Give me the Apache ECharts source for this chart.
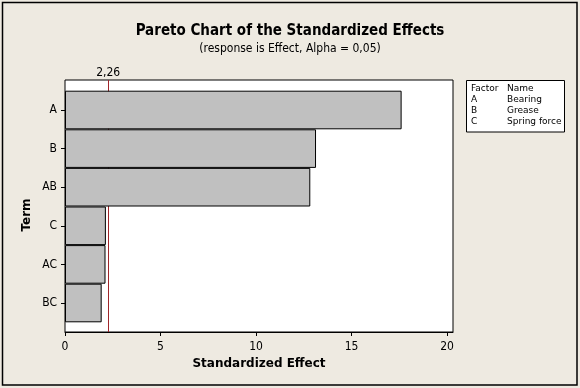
<!DOCTYPE html>
<html>
<head>
<meta charset="utf-8">
<script src="https://cdn.jsdelivr.net/npm/echarts@6/dist/echarts.min.js"></script>
<style>
html,body{margin:0;padding:0;background:#EEEAE1;}
#c{width:580px;height:388px;}
</style>
</head>
<body>
<div id="c"></div>
<script>
// ---- data ----
const terms = ['A', 'B', 'AB', 'C', 'AC', 'BC'];
const effects = [17.62, 13.14, 12.84, 2.14, 2.12, 1.92];
const criticalValue = 2.26;
const xTicks = [0, 5, 10, 15, 20];
const factorLetters = ['A', 'B', 'C'];
const factorNames = ['Bearing', 'Grease', 'Spring force'];
const titleText = 'Pareto Chart of the Standardized Effects';
const subtitleText = '(response is Effect, Alpha = 0,05)';

const FONT = '"DejaVu Sans Condensed", "DejaVu Sans"';
const FONT2 = 'DejaVu Sans';
const xMax = 20.31;
const fmt = v => String(v).replace('.', ',');

const chart = echarts.init(document.getElementById('c'), null, {renderer: 'canvas'});

const legendGraphics = [];
legendGraphics.push({type: 'rect', shape: {x: 466.5, y: 80.5, width: 98, height: 51.5},
  style: {fill: '#fff', stroke: '#000', lineWidth: 1}, z: 10});
legendGraphics.push({type: 'text', x: 471, y: 88.5, z: 11,
  style: {text: 'Factor', font: '9px ' + FONT2, fill: '#000', verticalAlign: 'middle'}});
legendGraphics.push({type: 'text', x: 507, y: 88.5, z: 11,
  style: {text: 'Name', font: '9px ' + FONT2, fill: '#000', verticalAlign: 'middle'}});
factorLetters.forEach((f, i) => {
  legendGraphics.push({type: 'text', x: 471, y: 99.5 + i * 11, z: 11,
    style: {text: f, font: '9px ' + FONT2, fill: '#000', verticalAlign: 'middle'}});
  legendGraphics.push({type: 'text', x: 507, y: 99.5 + i * 11, z: 11,
    style: {text: factorNames[i], font: '9px ' + FONT2, fill: '#000', verticalAlign: 'middle'}});
});

const option = {
  backgroundColor: '#EEEAE1',
  animation: false,
  title: {
    text: titleText,
    subtext: subtitleText,
    left: 'center',
    top: 19,
    itemGap: 4,
    textStyle: {fontFamily: FONT, fontSize: 15, fontWeight: 'bold', color: '#000'},
    subtextStyle: {fontFamily: FONT, fontSize: 12, color: '#000'}
  },
  graphic: [
    {type: 'rect', shape: {x: 2.5, y: 2.5, width: 574.5, height: 382.5},
     style: {fill: null, stroke: '#000', lineWidth: 1.5}, z: 20, silent: true},
    {type: 'text', x: 27, y: 215, rotation: Math.PI / 2,
     style: {text: 'Term', font: 'bold 12px ' + FONT2, fill: '#000', align: 'center', verticalAlign: 'middle'}},
    ...legendGraphics
  ],
  grid: [
    {left: 65, right: 127, top: 80, bottom: 56, show: true, backgroundColor: '#fff',
     borderColor: '#000', borderWidth: 1, containLabel: false},
    {left: 65, right: 127, top: 90.7, bottom: 65.7, containLabel: false}
  ],
  xAxis: [
    {type: 'value', gridIndex: 0, min: 0, max: xMax, interval: 5,
     name: 'Standardized Effect', nameLocation: 'middle', nameGap: 24,
     nameTextStyle: {fontFamily: FONT2, fontSize: 12, fontWeight: 'bold', color: '#000'},
     axisLine: {show: true, lineStyle: {color: '#000', width: 1}},
     axisTick: {show: true, length: 4, lineStyle: {color: '#000'}, customValues: xTicks},
     axisLabel: {fontFamily: FONT, fontSize: 12, color: '#000', margin: 9, customValues: xTicks},
     splitLine: {show: false}},
    {type: 'value', gridIndex: 1, min: 0, max: xMax, show: false, splitLine: {show: false}}
  ],
  yAxis: [
    {type: 'value', gridIndex: 0, min: 0, max: 1, show: false, splitLine: {show: false}},
    {type: 'category', gridIndex: 1, data: terms, inverse: true,
     axisLine: {show: false},
     axisTick: {show: true, alignWithLabel: true, length: 4, lineStyle: {color: '#000'}},
     axisLabel: {fontFamily: FONT, fontSize: 12, color: '#000', margin: 8},
     splitLine: {show: false}}
  ],
  series: [
    {type: 'line', xAxisIndex: 0, yAxisIndex: 0, data: [], z: 1, silent: true,
     markLine: {
       silent: true, symbol: 'none', animation: false,
       lineStyle: {color: '#A0262B', width: 1, type: 'solid'},
       label: {show: true, position: 'end', formatter: () => fmt(criticalValue),
         fontFamily: FONT, fontSize: 12, color: '#000', distance: 1},
       data: [{xAxis: criticalValue}]
     }},
    {type: 'bar', xAxisIndex: 1, yAxisIndex: 1, data: effects, barCategoryGap: 0,
     itemStyle: {color: '#C0C0C0', borderColor: '#000', borderWidth: 1}, z: 5, silent: true}
  ]
};
chart.setOption(option);
</script>
</body>
</html>
